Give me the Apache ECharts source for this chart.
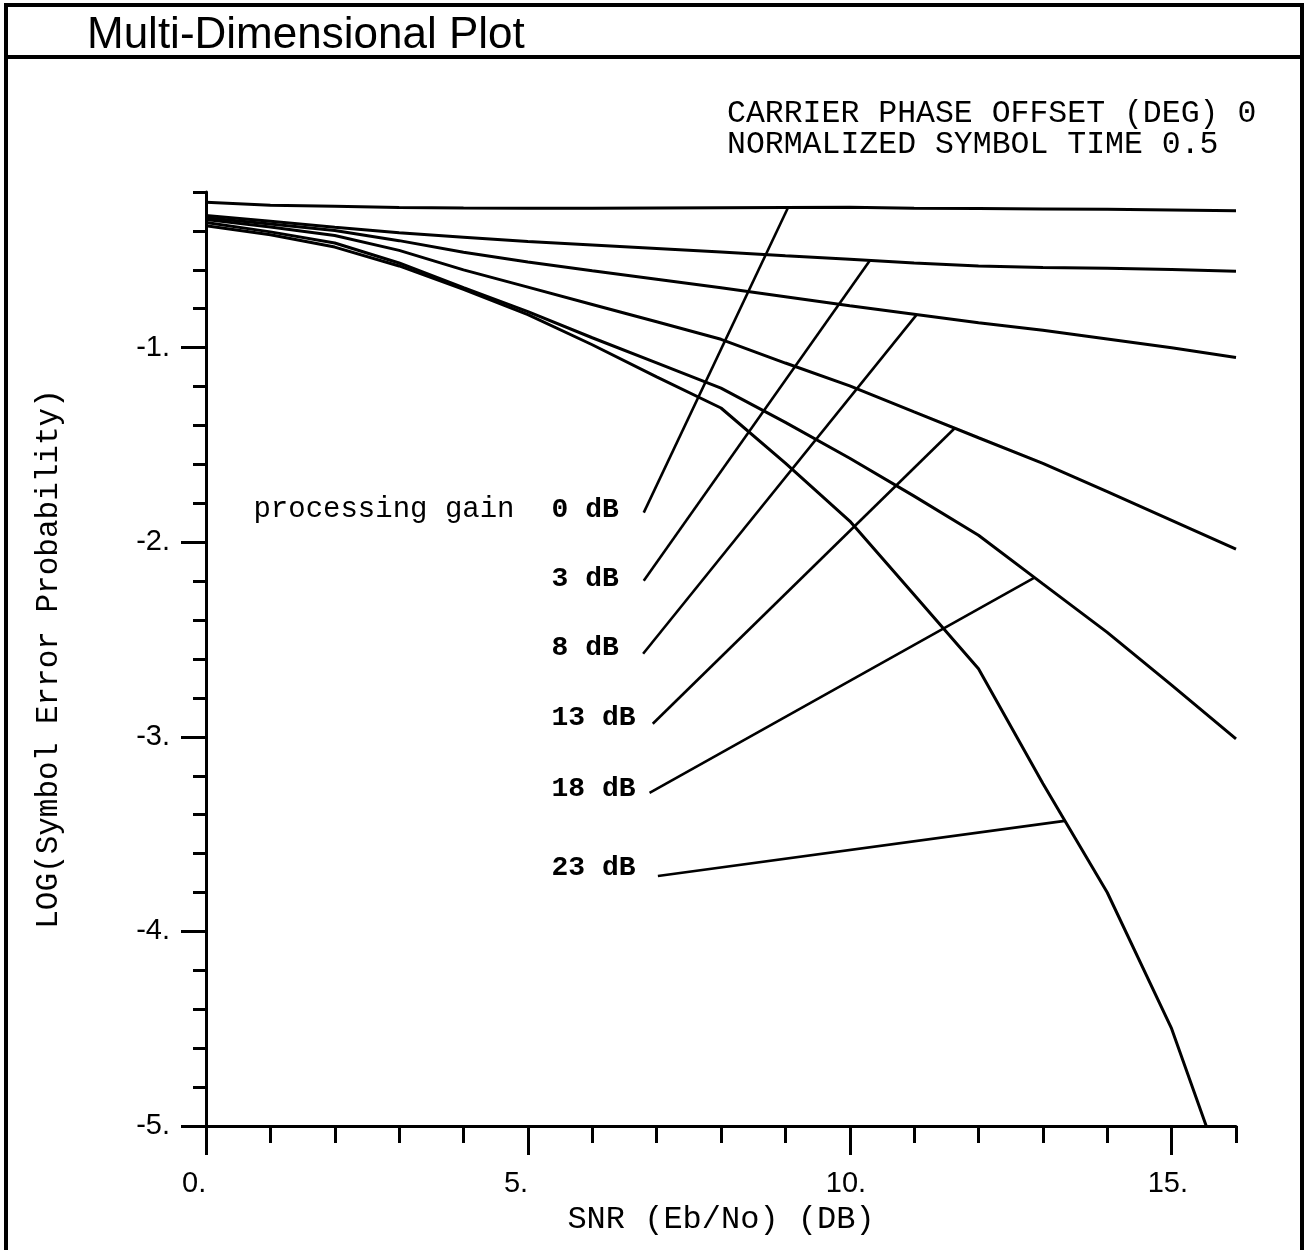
<!DOCTYPE html>
<html>
<head>
<meta charset="utf-8">
<script src="https://cdn.jsdelivr.net/npm/echarts@6/dist/echarts.min.js"></script>
<style>
  html, body { margin: 0; padding: 0; background: #fff; }
  #chart { width: 1308px; height: 1250px; }
</style>
</head>
<body>
<div id="chart"></div>
<script>
// SNR sample points (dB) and log10 symbol error probability for each processing gain
const snr = [0, 1, 2, 3, 4, 5, 6, 7, 8, 9, 10, 11, 12, 13, 14, 15, 16];
const gain0dB  = [-0.253, -0.268, -0.273, -0.280, -0.282, -0.283, -0.283, -0.282, -0.281, -0.280, -0.279, -0.283, -0.285, -0.287, -0.289, -0.292, -0.296];
const gain3dB  = [-0.321, -0.350, -0.381, -0.410, -0.432, -0.455, -0.472, -0.490, -0.508, -0.527, -0.545, -0.565, -0.580, -0.588, -0.592, -0.598, -0.607];
const gain8dB  = [-0.332, -0.365, -0.398, -0.450, -0.510, -0.560, -0.605, -0.648, -0.692, -0.738, -0.785, -0.828, -0.872, -0.910, -0.955, -1.000, -1.050];
const gain13dB = [-0.342, -0.380, -0.424, -0.500, -0.600, -0.689, -0.778, -0.867, -0.957, -1.079, -1.196, -1.330, -1.463, -1.595, -1.740, -1.887, -2.035];
const gain18dB = [-0.357, -0.405, -0.462, -0.565, -0.691, -0.815, -0.949, -1.078, -1.208, -1.384, -1.568, -1.763, -1.964, -2.214, -2.463, -2.734, -3.010];
const gain23dB = [-0.373, -0.420, -0.483, -0.580, -0.700, -0.830, -0.985, -1.150, -1.310, -1.593, -1.891, -2.270, -2.650, -3.240, -3.800, -4.500, -5.430];

const gainNames = ['0 dB', '3 dB', '8 dB', '13 dB', '18 dB', '23 dB'];

// Leader lines: from beside each gain label up to its curve
const leaderFrom = [[6.80, -1.848], [6.80, -2.198], [6.79, -2.573], [6.94, -2.933], [6.89, -3.288], [7.02, -3.715]];
const leaderTo   = [[9.04, -0.281], [10.31, -0.553], [11.04, -0.830], [11.63, -1.414], [12.87, -2.182], [13.34, -3.432]];

// Gain label anchors (left edge of each label)
const gainLabelX = 5.36;
const gainLabelY = [-1.833, -2.188, -2.542, -2.902, -3.267, -3.676];
const captionText = 'processing gain';
const captionAnchor = [4.80, -1.833];

// Axis ticks and labels
const xMajorTicks = [0, 5, 10, 15];
const yMajorTicks = [-5, -4, -3, -2, -1];

const titleText = 'Multi-Dimensional Plot';
const paramLines = ['CARRIER PHASE OFFSET (DEG) 0', 'NORMALIZED SYMBOL TIME 0.5'];
const xTitle = 'SNR (Eb/No) (DB)';
const yTitle = 'LOG(Symbol Error Probability)';

const SANS = '"Liberation Sans", Arial, sans-serif';
const MONO = '"Liberation Mono", "DejaVu Sans Mono", monospace';
const INK = '#000';

const curves = [gain0dB, gain3dB, gain8dB, gain13dB, gain18dB, gain23dB];

const curveSeries = curves.map((vals, i) => ({
  name: gainNames[i],
  type: 'line',
  xAxisIndex: 0,
  yAxisIndex: 0,
  data: snr.map((x, j) => [x, vals[j]]),
  symbol: 'none',
  smooth: false,
  clip: true,
  silent: true,
  lineStyle: { color: INK, width: 3 },
  z: 3
}));

const leaderSeries = leaderFrom.map((p, i) => ({
  name: 'leader ' + gainNames[i],
  type: 'line',
  data: [p, leaderTo[i]],
  symbol: 'none',
  silent: true,
  lineStyle: { color: INK, width: 2.6 },
  z: 3
}));

const labelSeries = {
  name: 'gain labels',
  type: 'scatter',
  data: gainLabelY.map(y => [gainLabelX, y]),
  symbolSize: 1,
  itemStyle: { color: 'transparent', opacity: 1 },
  silent: true,
  label: {
    show: true,
    position: 'right',
    distance: 0,
    formatter: p => gainNames[p.dataIndex],
    fontFamily: MONO,
    fontWeight: 'bold',
    fontSize: 28,
    color: INK,
    opacity: 1
  }
};

const captionSeries = {
  name: 'caption',
  type: 'scatter',
  data: [captionAnchor],
  symbolSize: 1,
  itemStyle: { color: 'transparent', opacity: 1 },
  silent: true,
  label: {
    show: true,
    position: 'left',
    distance: 0,
    formatter: captionText,
    fontFamily: MONO,
    fontSize: 29,
    color: INK,
    opacity: 1
  }
};

const axisLineStyle = { color: INK, width: 3 };

const option = {
  animation: false,
  backgroundColor: '#fff',
  title: {
    text: titleText,
    left: 87,
    top: 14,
    padding: 0,
    textStyle: { fontFamily: SANS, fontSize: 44, fontWeight: 'normal', color: INK }
  },
  graphic: [
    {
      type: 'rect',
      shape: { x: 6, y: 5, width: 1296, height: 1300 },
      style: { fill: 'none', stroke: INK, lineWidth: 4 },
      silent: true
    },
    {
      type: 'line',
      shape: { x1: 6, y1: 57, x2: 1302, y2: 57 },
      style: { stroke: INK, lineWidth: 4 },
      silent: true
    },
    {
      type: 'text',
      left: 727,
      top: 98,
      style: { text: paramLines[0], font: '31.5px ' + MONO, fill: INK }
    },
    {
      type: 'text',
      left: 727,
      top: 129,
      style: { text: paramLines[1], font: '31.5px ' + MONO, fill: INK }
    }
  ],
  grid: { left: 206, top: 192, width: 1030, height: 934, containLabel: false },
  xAxis: [
    {
      type: 'value',
      position: 'bottom',
      min: 0,
      max: 16,
      interval: 1,
      axisLine: { show: true, onZero: false, lineStyle: axisLineStyle },
      axisTick: { show: true, length: 17, lineStyle: axisLineStyle },
      splitLine: { show: false },
      axisLabel: {
        customValues: xMajorTicks,
        formatter: v => '{t|' + v + '.}',
        align: 'center',
        margin: 43,
        rich: { t: { width: 48, align: 'left', fontFamily: SANS, fontSize: 29, color: INK } }
      },
      name: xTitle,
      nameLocation: 'middle',
      nameGap: 78,
      nameTextStyle: { fontFamily: MONO, fontSize: 32, color: INK }
    },
    {
      type: 'value',
      position: 'bottom',
      min: 0,
      max: 16,
      axisLine: { show: false },
      axisTick: { show: true, length: 29, customValues: xMajorTicks, lineStyle: axisLineStyle },
      axisLabel: { show: false },
      splitLine: { show: false }
    }
  ],
  yAxis: [
    {
      type: 'value',
      position: 'left',
      min: -5,
      max: -0.2,
      interval: 0.2,
      axisLine: { show: true, onZero: false, lineStyle: axisLineStyle },
      axisTick: { show: true, length: 13, lineStyle: axisLineStyle },
      splitLine: { show: false },
      axisLabel: {
        customValues: yMajorTicks,
        formatter: v => Math.round(v) + '.',
        margin: 36,
        fontFamily: SANS,
        fontSize: 29,
        color: INK
      },
      name: yTitle,
      nameLocation: 'middle',
      nameGap: 142,
      nameRotate: 90,
      nameTextStyle: { fontFamily: MONO, fontSize: 31, color: INK }
    },
    {
      type: 'value',
      position: 'left',
      min: -5,
      max: -0.2,
      axisLine: { show: false },
      axisTick: { show: true, length: 25, customValues: yMajorTicks, lineStyle: axisLineStyle },
      axisLabel: { show: false },
      splitLine: { show: false }
    }
  ],
  series: [...curveSeries, ...leaderSeries, labelSeries, captionSeries]
};

const chart = echarts.init(document.getElementById('chart'), null, { renderer: 'canvas' });
chart.setOption(option);
</script>
</body>
</html>
